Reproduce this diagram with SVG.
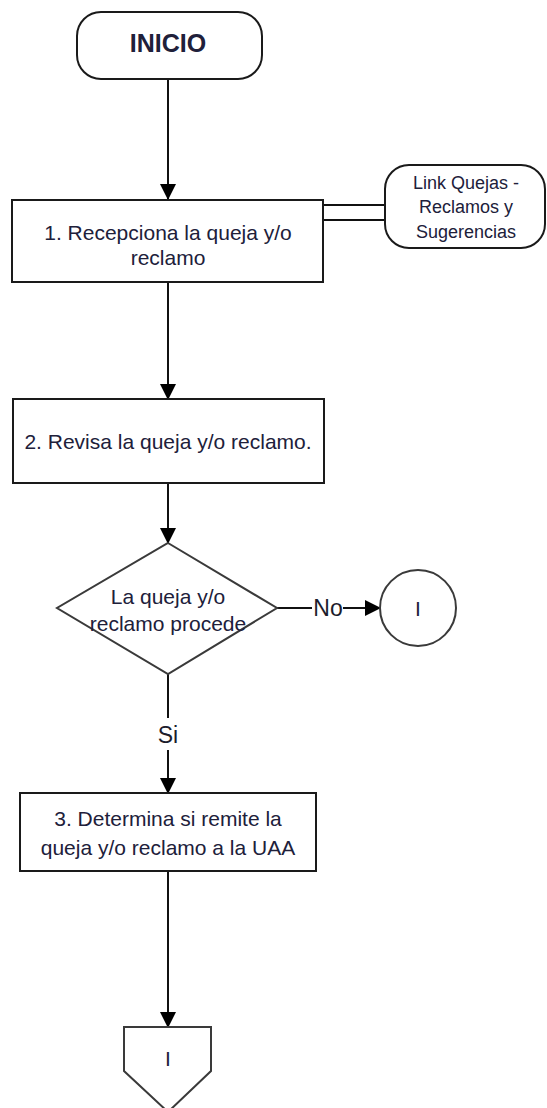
<svg xmlns="http://www.w3.org/2000/svg" width="547" height="1108" viewBox="0 0 547 1108">
  <style>
    .shape { fill: #ffffff; stroke: #1a1a1a; stroke-width: 2; }
    .soft { fill: #ffffff; stroke: #3a3a3a; stroke-width: 2; }
    .wire { fill: none; stroke: #111111; stroke-width: 2; }
    .lbl { font-family: "Liberation Sans", Arial, sans-serif; fill: #20203a; text-anchor: middle; }
    .step { font-size: 21px; }
    .small { font-size: 18px; }
    .edge { font-family: "Liberation Sans", Arial, sans-serif; font-size: 23px; fill: #1c1c2c; text-anchor: middle; }
  </style>
  <defs>
    <marker id="arrow" markerWidth="16" markerHeight="16" refX="15" refY="8" orient="auto" markerUnits="userSpaceOnUse">
      <path d="M0,0 L16,8 L0,16 Z" fill="#000000"/>
    </marker>
  </defs>
  <rect width="547" height="1108" fill="#ffffff"/>

  <!-- connectors -->
  <g id="connectors">
    <line class="wire" x1="168" y1="79" x2="168" y2="199" marker-end="url(#arrow)"/>
    <line class="wire" x1="168" y1="282" x2="168" y2="399" marker-end="url(#arrow)"/>
    <line class="wire" x1="168" y1="483" x2="168" y2="543" marker-end="url(#arrow)"/>
    <line class="wire" x1="168" y1="674" x2="168" y2="718"/>
    <line class="wire" x1="168" y1="750" x2="168" y2="793" marker-end="url(#arrow)"/>
    <line class="wire" x1="168" y1="871" x2="168" y2="1027" marker-end="url(#arrow)"/>
    <line class="wire" x1="277" y1="608" x2="312" y2="608"/>
    <line class="wire" x1="343" y1="608" x2="380" y2="608" marker-end="url(#arrow)"/>
    <line class="wire" x1="323" y1="205" x2="386" y2="205"/>
    <line class="wire" x1="323" y1="220" x2="386" y2="220"/>
    <text class="edge" x="328" y="616">No</text>
    <text class="edge" x="168" y="743">Si</text>
  </g>

  <g id="inicio">
    <rect class="shape" x="77" y="12" width="185" height="67" rx="24" ry="24"/>
    <text class="lbl" x="168" y="52" font-size="25" font-weight="bold">INICIO</text>
  </g>

  <g id="link">
    <rect class="shape" x="385" y="165" width="160" height="83" rx="24" ry="24"/>
    <text class="lbl small" x="466" y="189">Link Quejas -</text>
    <text class="lbl small" x="466" y="213">Reclamos y</text>
    <text class="lbl small" x="466" y="238">Sugerencias</text>
  </g>

  <g id="step1">
    <rect class="shape" x="12" y="200" width="311" height="82"/>
    <text class="lbl step" x="168" y="240">1. Recepciona la queja y/o</text>
    <text class="lbl step" x="168" y="265">reclamo</text>
  </g>

  <g id="step2">
    <rect class="shape" x="13" y="399" width="311" height="84"/>
    <text class="lbl step" x="168" y="449">2. Revisa la queja y/o reclamo.</text>
  </g>

  <g id="decision">
    <polygon class="soft" points="168,543 277,608 168,674 57,608"/>
    <text class="lbl step" x="168" y="604">La queja y/o</text>
    <text class="lbl step" x="168" y="631">reclamo procede</text>
  </g>

  <g id="connector-no">
    <circle class="soft" cx="418" cy="608" r="38"/>
    <text class="lbl step" x="418" y="616">I</text>
  </g>

  <g id="step3">
    <rect class="shape" x="20" y="793" width="296" height="78"/>
    <text class="lbl step" x="168" y="826">3. Determina si remite la</text>
    <text class="lbl step" x="168" y="855">queja y/o reclamo a la UAA</text>
  </g>

  <g id="offpage">
    <polygon class="soft" points="124,1027 211,1027 211,1071 168,1112 124,1071"/>
    <text class="lbl step" x="168" y="1066">I</text>
  </g>
</svg>
